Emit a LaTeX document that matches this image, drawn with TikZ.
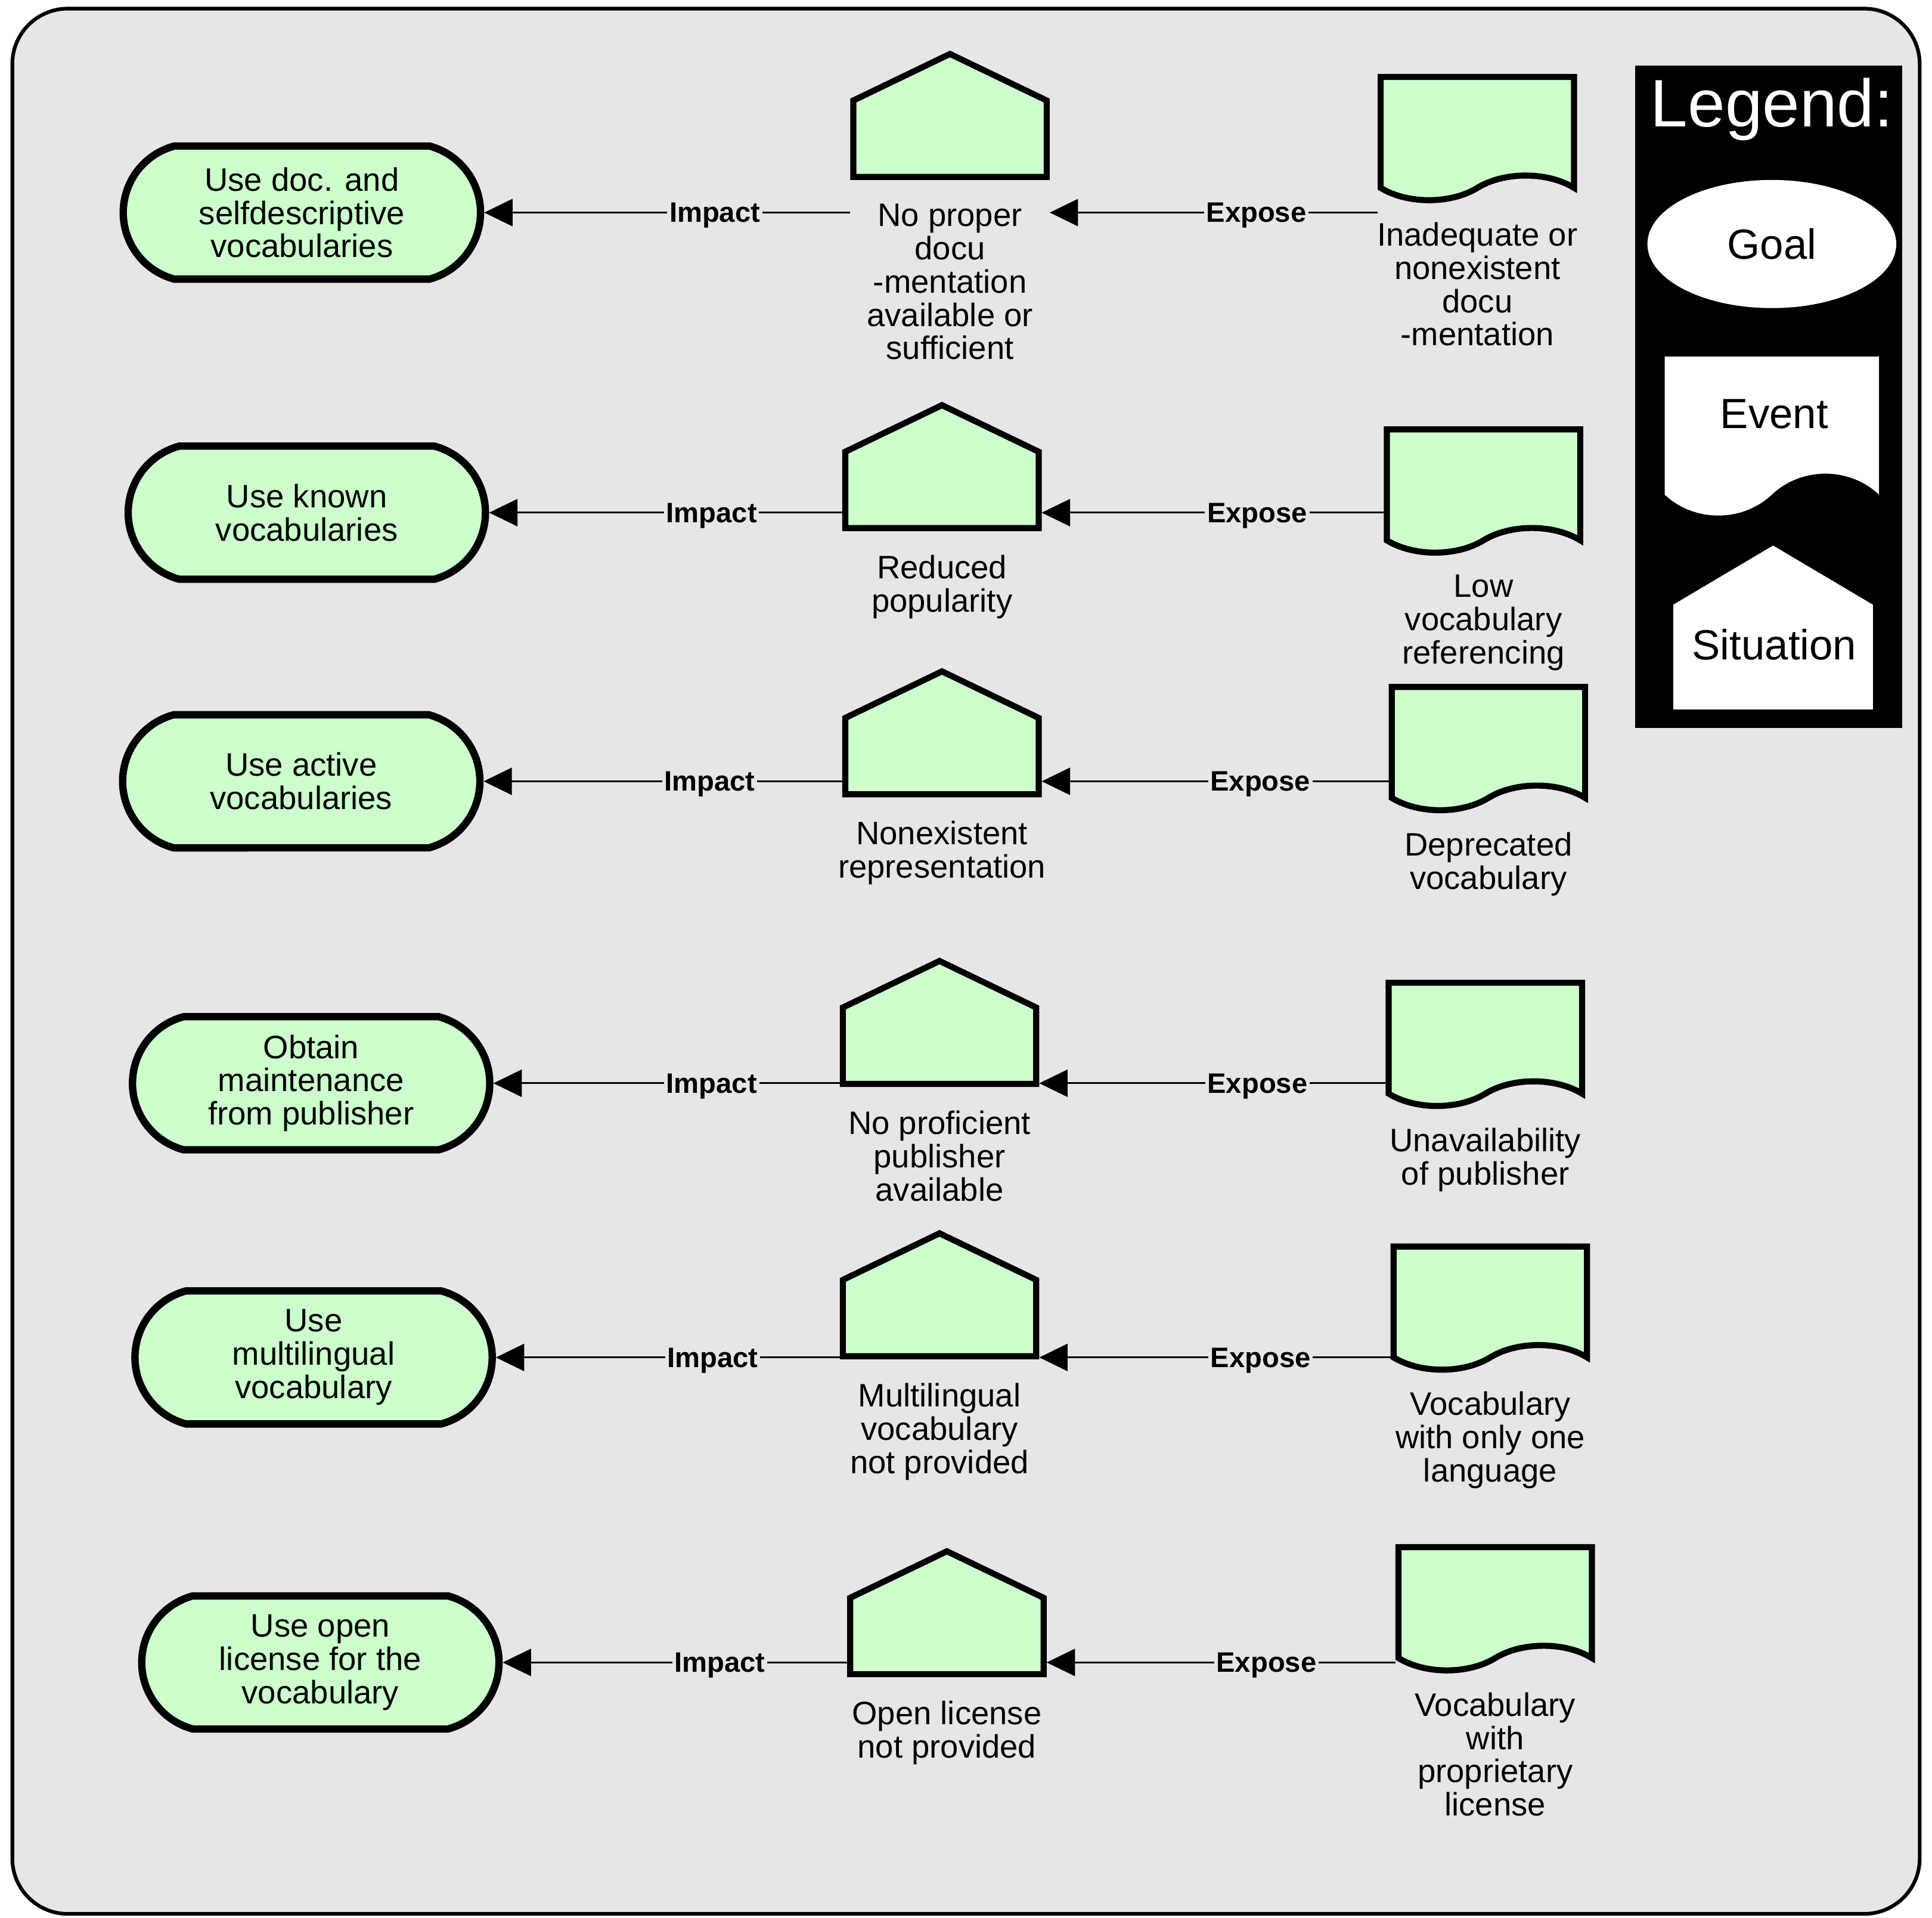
\documentclass[tikz,border=0pt]{standalone}
\usepackage{fontspec}
\setmainfont{Liberation Sans}
\usetikzlibrary{positioning,arrows.meta,shapes.misc,shapes.symbols,shapes.geometric}
\definecolor{paleGreen}{HTML}{CCFFCC}
\definecolor{panelGray}{HTML}{E6E6E6}

\begin{document}
\begin{tikzpicture}[>={Triangle[length=0.46cm,width=0.44cm]},x=0.02cm,y=-0.02cm,
		goal node/.style={rounded rectangle,rounded rectangle arc length=150,draw,line width=3.4pt,fill=paleGreen,
			minimum width=5.8cm,minimum height=2.16cm,inner sep=0pt,align=center,font=\fontsize{15}{15.4}\selectfont},
		situation node/.style={signal,signal to=north,signal from=nowhere,signal pointer angle=128.6,draw,line width=2.8pt,
			fill=paleGreen,minimum width=3.14cm,minimum height=1.24cm,inner sep=0pt,anchor=south},
		event node/.style={tape,tape bend top=none,tape bend bottom=in and out,tape bend height=0.4cm,draw,line width=2.8pt,
			fill=paleGreen,minimum width=3.14cm,minimum height=2cm,inner sep=0pt,anchor=north},
		text node/.style={inner sep=0pt,align=center,font=\fontsize{15}{15.4}\selectfont},
		link label/.style={fill=panelGray,inner sep=1pt,text depth=0pt,pos=0.37,font=\fontsize{13}{15}\selectfont\bfseries},
		legend text/.style={inner sep=0pt,font=\fontsize{19.5}{22}\selectfont}]
	
	\useasboundingbox (0,0) rectangle (1568,1556);
	\draw[line width=1.7pt,fill=panelGray,rounded corners=0.9cm] (10,7) rectangle (1558,1553);
	
	% goals
	\node[goal node] (g1) at (245,172.5) {Use doc. and\\selfdescriptive\\vocabularies};
	\node[goal node] (g2) at (249,416) {Use known\\vocabularies};
	\node[goal node] (g3) at (244.5,634) {Use active\\vocabularies};
	\node[goal node] (g4) at (252.5,879) {Obtain\\maintenance\\from publisher};
	\node[goal node] (g5) at (254.5,1101.5) {Use\\multilingual\\vocabulary};
	\node[goal node] (g6) at (260,1349) {Use open\\license for the\\vocabulary};
	
	% situations
	\node[situation node] (s1) at (771,146) {};
	\node[situation node] (s2) at (764.5,431) {};
	\node[situation node] (s3) at (764.5,647) {};
	\node[situation node] (s4) at (762.5,882) {};
	\node[situation node] (s5) at (762.5,1103) {};
	\node[situation node] (s6) at (768.5,1361) {};
	\node[text node,below=0.38cm of s1] (s1t) {No proper\\docu\\-mentation\\available or\\sufficient};
	\node[text node,below=0.38cm of s2] (s2t) {Reduced\\popularity};
	\node[text node,below=0.38cm of s3] (s3t) {Nonexistent\\representation};
	\node[text node,below=0.38cm of s4] (s4t) {No proficient\\publisher\\available};
	\node[text node,below=0.38cm of s5] (s5t) {Multilingual\\vocabulary\\not provided};
	\node[text node,below=0.38cm of s6] (s6t) {Open license\\not provided};
	
	% events
	\node[event node] (e1) at (1199,60) {};
	\node[event node] (e2) at (1204,346) {};
	\node[event node] (e3) at (1208,555) {};
	\node[event node] (e4) at (1205.5,795) {};
	\node[event node] (e5) at (1209.5,1009) {};
	\node[event node] (e6) at (1213.5,1253) {};
	\node[text node,below=2.4cm of e1.north] (e1t) {Inadequate or\\nonexistent\\docu\\-mentation};
	\node[text node,below=2.4cm of e2.north] (e2t) {Low\\vocabulary\\referencing};
	\node[text node,below=2.4cm of e3.north] (e3t) {Deprecated\\vocabulary};
	\node[text node,below=2.4cm of e4.north] (e4t) {Unavailability\\of publisher};
	\node[text node,below=2.4cm of e5.north] (e5t) {Vocabulary\\with only one\\language};
	\node[text node,below=2.4cm of e6.north] (e6t) {Vocabulary\\with\\proprietary\\license};
	
	% links
	\path[->,line width=0.85pt]
	(s1.west |- g1.east) edge node[link label] {Impact} (g1.east)
	(e1.west |- g1.east) edge node[link label] {Expose} (s1.east |- g1.east)
	(s2.west |- g2.east) edge node[link label] {Impact} (g2.east)
	(e2.west |- g2.east) edge node[link label] {Expose} (s2.east |- g2.east)
	(s3.west |- g3.east) edge node[link label] {Impact} (g3.east)
	(e3.west |- g3.east) edge node[link label] {Expose} (s3.east |- g3.east)
	(s4.west |- g4.east) edge node[link label] {Impact} (g4.east)
	(e4.west |- g4.east) edge node[link label] {Expose} (s4.east |- g4.east)
	(s5.west |- g5.east) edge node[link label] {Impact} (g5.east)
	(e5.west |- g5.east) edge node[link label] {Expose} (s5.east |- g5.east)
	(s6.west |- g6.east) edge node[link label] {Impact} (g6.east)
	(e6.west |- g6.east) edge node[link label] {Expose} (s6.east |- g6.east);
	
	% legend
	\node[fill=black,minimum width=4.34cm,minimum height=10.76cm,inner sep=0pt] (legend) at (1435.5,322) {};
	\node[text=white,inner sep=0pt,anchor=base,font=\fontsize{31}{33}\selectfont] (legendtitle) at (1438,103) {Legend:};
	\node[ellipse,fill=white,minimum width=4.04cm,minimum height=2.08cm,legend text] (lgoal) at (1438,198) {Goal};
	\node[tape,tape bend top=none,tape bend bottom=in and out,tape bend height=0.68cm,fill=white,
		minimum width=3.48cm,minimum height=2.58cm,inner sep=0pt,anchor=north] (levent) at (1438,289) {};
	\node[legend text] (leventt) at (1440,336) {Event};
	\node[signal,signal to=north,signal from=nowhere,signal pointer angle=118.7,fill=white,
		minimum width=3.24cm,minimum height=1.7cm,inner sep=0pt,anchor=south] (lsit) at (1439,576) {};
	\node[legend text] (lsitt) at (1440,523) {Situation};
\end{tikzpicture}
\end{document}
